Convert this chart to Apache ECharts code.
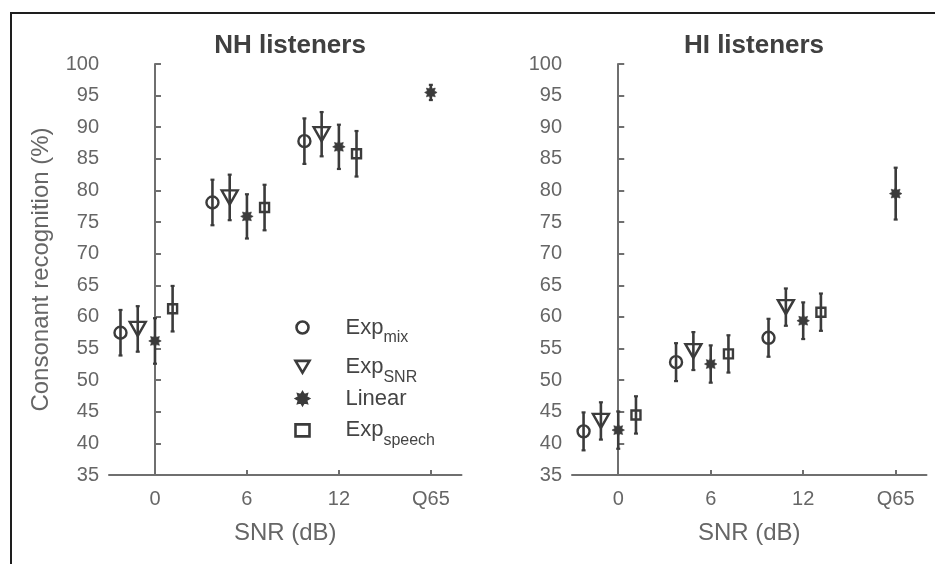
<!DOCTYPE html>
<html>
<head>
<meta charset="utf-8">
<script src="https://cdn.jsdelivr.net/npm/echarts@6/dist/echarts.min.js"></script>
<style>html,body{margin:0;padding:0;background:#fff}#c{width:935px;height:564px}</style>
</head>
<body>
<div id="c"></div>
<script>
// ---------- data ----------
const snrLevels = [0, 6, 12];
const q65Pos = 18;
const xTickValues = [0, 6, 12, 18];
const xTickLabels = ['0', '6', '12', 'Q65'];
const seriesNames = ['Exp_mix', 'Exp_SNR', 'Linear', 'Exp_speech'];

// NH listeners: mean and half error bar at SNR 0, 6, 12 (Linear also at Q65)
const nhMix = [57.5, 78.1, 87.8];
const nhMixErr = [3.6, 3.6, 3.6];
const nhSnr = [58.1, 78.9, 88.9];
const nhSnrErr = [3.6, 3.6, 3.5];
const nhLin = [56.2, 75.9, 86.9];
const nhLinErr = [3.6, 3.5, 3.5];
const nhLinQ65 = 95.5;
const nhLinQ65Err = 1.2;
const nhSpeech = [61.3, 77.3, 85.8];
const nhSpeechErr = [3.6, 3.6, 3.6];

// HI listeners
const hiMix = [41.9, 52.85, 56.7];
const hiMixErr = [3.0, 3.0, 3.0];
const hiSnr = [43.55, 54.6, 61.55];
const hiSnrErr = [2.95, 3.0, 2.95];
const hiLin = [42.1, 52.55, 59.4];
const hiLinErr = [2.95, 2.95, 2.9];
const hiLinQ65 = 79.5;
const hiLinQ65Err = 4.1;
const hiSpeech = [44.5, 54.15, 60.75];
const hiSpeechErr = [2.95, 2.95, 2.95];

// ---------- style ----------
const FONT = '"Liberation Sans", Arial, Helvetica, sans-serif';
const MARK = '#3b3b3b';
const AXIS = '#6f6f6f';
const LABEL = '#666666';
const dodge = [-2.25, -1.125, 0, 1.15];

function starPath() {
  let d = '';
  for (let i = 0; i < 16; i++) {
    const a = i * Math.PI / 8 - Math.PI / 2;
    const r = i % 2 === 0 ? 10 : 6.2;
    const x = (10 + r * Math.cos(a)).toFixed(2), y = (10 + r * Math.sin(a)).toFixed(2);
    d += (i === 0 ? 'M' : 'L') + x + ',' + y + ' ';
  }
  return 'path://' + d + 'Z';
}
const symbols = {
  'Exp_mix': {symbol: 'circle', size: 12, hollow: true},
  'Exp_SNR': {symbol: 'path://M0,0 L20,0 L10,17 Z', size: [16, 14], hollow: true},
  'Linear': {symbol: starPath(), size: 12.5, hollow: false},
  'Exp_speech': {symbol: 'rect', size: 9, hollow: true}
};

function renderErr(params, api) {
  const x = api.value(0), lo = api.value(1), hi = api.value(2);
  const p1 = api.coord([x, hi]), p2 = api.coord([x, lo]);
  const cw = 2;
  return {
    type: 'group',
    children: [
      {type: 'line', shape: {x1: p1[0], y1: p1[1], x2: p2[0], y2: p2[1]}, style: {stroke: MARK, lineWidth: 2.6}},
      {type: 'line', shape: {x1: p1[0] - cw, y1: p1[1], x2: p1[0] + cw, y2: p1[1]}, style: {stroke: MARK, lineWidth: 2.2}},
      {type: 'line', shape: {x1: p2[0] - cw, y1: p2[1], x2: p2[0] + cw, y2: p2[1]}, style: {stroke: MARK, lineWidth: 2.2}}
    ]
  };
}

function buildPanel(idx, groups) {
  const out = [];
  groups.forEach((g, si) => {
    const pts = g.vals.map((v, i) => [snrLevels[i] + dodge[si], v]);
    const errs = g.vals.map((v, i) => [snrLevels[i] + dodge[si], v - g.errs[i], v + g.errs[i]]);
    if (g.q65 !== undefined) {
      pts.push([q65Pos, g.q65]);
      errs.push([q65Pos, g.q65 - g.q65Err, g.q65 + g.q65Err]);
    }
    out.push({
      type: 'custom', xAxisIndex: idx, yAxisIndex: idx, renderItem: renderErr,
      encode: {x: 0, y: [1, 2]}, data: errs, z: 2, silent: true
    });
    const s = symbols[g.name];
    out.push({
      type: 'scatter', name: g.name, xAxisIndex: idx, yAxisIndex: idx,
      symbol: s.symbol, symbolSize: s.size, data: pts, z: 3,
      itemStyle: s.hollow
        ? {color: 'none', borderColor: MARK, borderWidth: 2.4, opacity: 1}
        : {color: MARK, borderColor: MARK, borderWidth: 0.6, opacity: 1}
    });
  });
  return out;
}

const series = [].concat(
  buildPanel(0, [
    {name: 'Exp_mix', vals: nhMix, errs: nhMixErr},
    {name: 'Exp_SNR', vals: nhSnr, errs: nhSnrErr},
    {name: 'Linear', vals: nhLin, errs: nhLinErr, q65: nhLinQ65, q65Err: nhLinQ65Err},
    {name: 'Exp_speech', vals: nhSpeech, errs: nhSpeechErr}
  ]),
  buildPanel(1, [
    {name: 'Exp_mix', vals: hiMix, errs: hiMixErr},
    {name: 'Exp_SNR', vals: hiSnr, errs: hiSnrErr},
    {name: 'Linear', vals: hiLin, errs: hiLinErr, q65: hiLinQ65, q65Err: hiLinQ65Err},
    {name: 'Exp_speech', vals: hiSpeech, errs: hiSpeechErr}
  ])
);

function xAxis(gi) {
  return {
    type: 'value', gridIndex: gi, min: -3, max: 20,
    name: 'SNR (dB)', nameLocation: 'middle', nameGap: 46,
    nameTextStyle: {fontFamily: FONT, fontSize: 24, color: LABEL},
    axisLine: {show: true, lineStyle: {color: AXIS, width: 2}},
    axisTick: {show: true, inside: true, length: 5, lineStyle: {color: AXIS, width: 2}, customValues: xTickValues},
    axisLabel: {
      fontFamily: FONT, fontSize: 20, color: LABEL, margin: 14,
      customValues: xTickValues,
      formatter: v => xTickLabels[xTickValues.indexOf(v)] ?? ''
    },
    splitLine: {show: false}
  };
}
function yAxis(gi, named) {
  return {
    type: 'value', gridIndex: gi, min: 35, max: 100, interval: 5,
    name: named ? 'Consonant recognition (%)' : '', nameLocation: 'middle', nameGap: 56,
    nameTextStyle: {fontFamily: FONT, fontSize: 24, color: LABEL},
    axisLine: {show: true, lineStyle: {color: AXIS, width: 2}},
    axisTick: {show: true, inside: true, length: 6, lineStyle: {color: AXIS, width: 2}},
    axisLabel: {fontFamily: FONT, fontSize: 20, color: LABEL, margin: 10},
    splitLine: {show: false}
  };
}

const legendText = {
  'Exp_mix': '{a|Exp}{b|mix}',
  'Exp_SNR': '{a|Exp}{b|SNR}',
  'Linear': '{c|Linear}',
  'Exp_speech': '{a|Exp}{b|speech}'
};

const option = {
  backgroundColor: '#fff',
  animation: false,
  title: [
    {text: 'NH listeners', left: 285, top: 28, textAlign: 'center',
     textStyle: {fontFamily: FONT, fontSize: 26, fontWeight: 'bold', color: '#404040'}},
    {text: 'HI listeners', left: 749, top: 28, textAlign: 'center',
     textStyle: {fontFamily: FONT, fontSize: 26, fontWeight: 'bold', color: '#404040'}}
  ],
  grid: [
    {left: 109, top: 64, width: 352.5, height: 411},
    {left: 572, top: 64, width: 354.5, height: 411}
  ],
  xAxis: [xAxis(0), xAxis(1)],
  yAxis: [yAxis(0, true), yAxis(1, false)],
  legend: {
    data: seriesNames,
    orient: 'vertical', left: 293, top: 309, padding: 0,
    itemWidth: 14, itemHeight: 12, itemGap: 2.3, selectedMode: false,
    itemStyle: {borderWidth: 2.6, borderColor: MARK},
    formatter: n => legendText[n],
    textStyle: {
      fontFamily: FONT, color: '#444',
      rich: {
        a: {fontFamily: FONT, fontSize: 22, color: '#444', lineHeight: 36, padding: [0, 0, 0, 31]},
        b: {fontFamily: FONT, fontSize: 16, color: '#444', lineHeight: 16, padding: [21, 0, 0, 0]},
        c: {fontFamily: FONT, fontSize: 22, color: '#444', lineHeight: 23, padding: [0, 0, 0, 31]}
      }
    }
  },
  graphic: [
    {type: 'rect', shape: {x: 11, y: 13, width: 1000, height: 1000},
     style: {fill: 'none', stroke: '#1e1e1e', lineWidth: 2}, silent: true, z: 100}
  ],
  series: series
};

const chart = echarts.init(document.getElementById('c'), null, {renderer: 'canvas'});
chart.setOption(option);
</script>
</body>
</html>
